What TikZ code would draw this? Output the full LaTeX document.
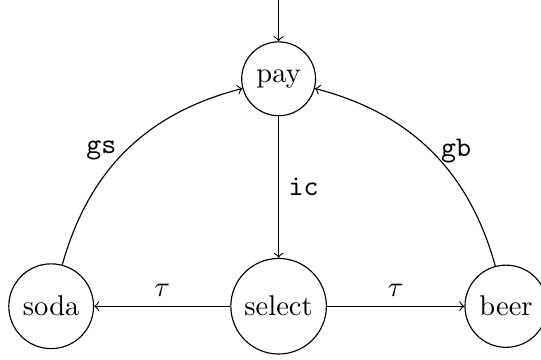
\documentclass[tikz,border=0pt]{standalone}
\usepackage{amsmath}

\begin{document}
\begin{tikzpicture}[>=to, loc/.style={circle, draw}]
  \useasboundingbox (-3.43,-3.45) rectangle (3.23,0.97);
  \node[loc] (pay) at (0,0) {pay};
  \node[loc] (select) at (0,-2.8) {select};
  \node[loc] (soda) at (-2.8,-2.8) {soda};
  \node[loc] (beer) at (2.8,-2.8) {beer};
  \coordinate (start) at (0,0.97);
  \draw[->] (start) -- (pay);
  \draw[->] (pay) -- (select) node[midway, right] {$\mathtt{ic}$};
  \draw[->] (select) -- (soda) node[midway, above] {$\tau$};
  \draw[->] (select) -- (beer) node[midway, above] {$\tau$};
  \draw[->] (soda) to[bend left=30] node[midway, left] {$\mathtt{gs}$} (pay);
  \draw[->] (beer) to[bend right=30] node[midway, right] {$\mathtt{gb}$} (pay);
\end{tikzpicture}
\end{document}
